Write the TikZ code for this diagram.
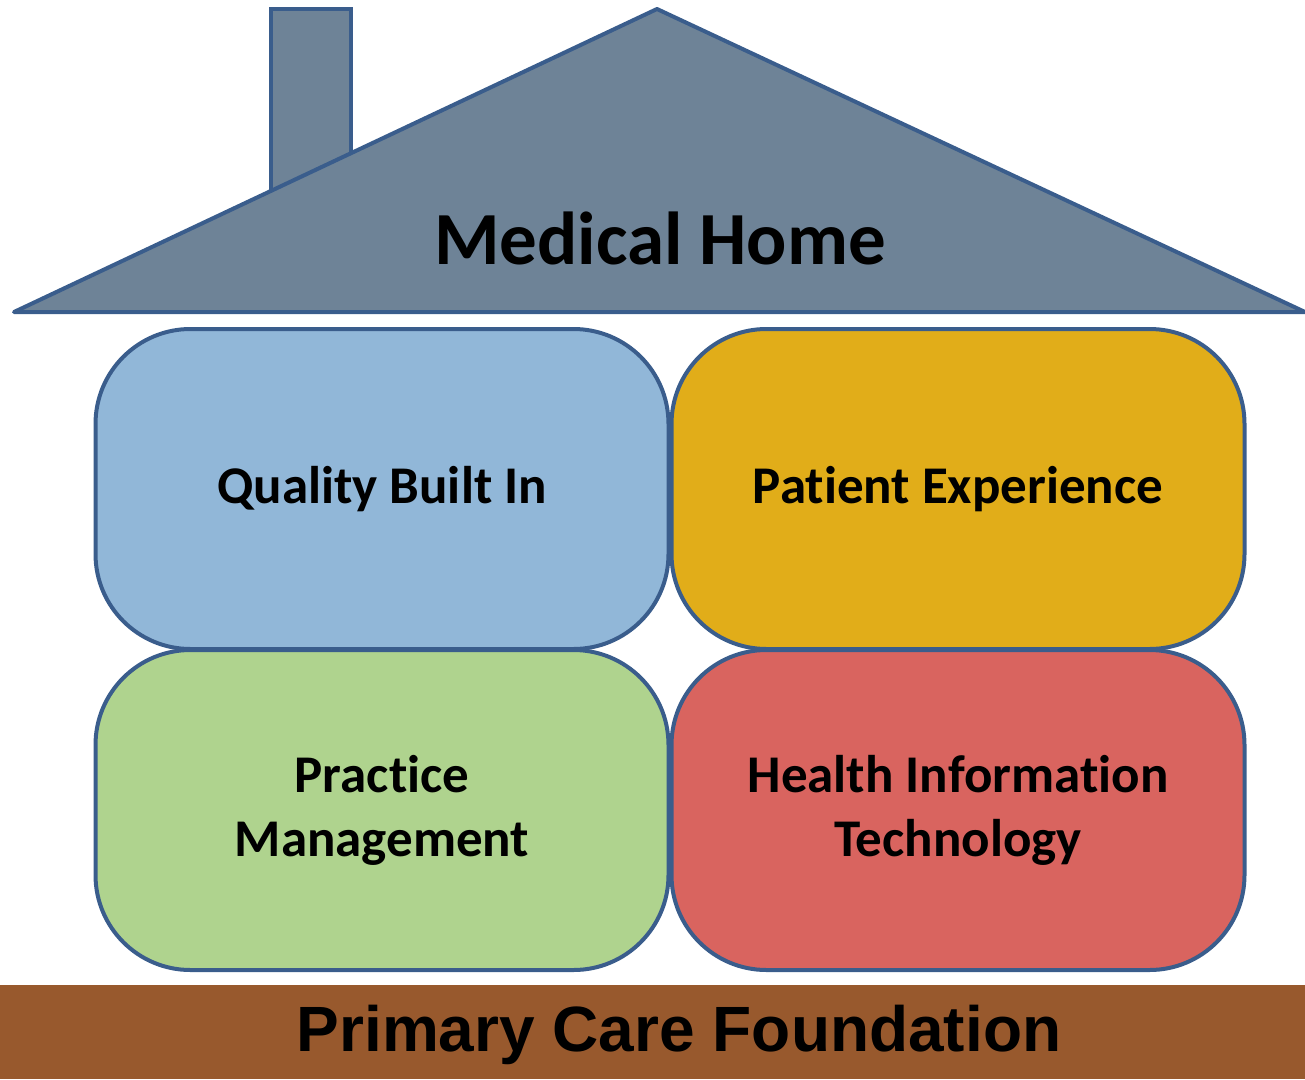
\documentclass[tikz,border=0pt]{standalone}
\usepackage{fontspec}
\setmainfont{Carlito}[RawFeature={-liga;-clig;-calt;-dlig}]
\newfontfamily\arialfont{Liberation Sans}
\definecolor{roofgray}{RGB}{110,131,151}
\definecolor{edgeblue}{RGB}{58,93,140}
\definecolor{qualblue}{RGB}{145,183,216}
\definecolor{patgold}{RGB}{225,173,25}
\definecolor{pracgreen}{RGB}{175,211,142}
\definecolor{hitred}{RGB}{217,100,95}
\definecolor{basebrown}{RGB}{152,89,45}
\begin{document}
\begin{tikzpicture}[x=1pt, y=-1pt,
pillar/.style={rectangle, rounded corners=95pt, draw=edgeblue, line width=4pt, minimum width=573pt, minimum height=320pt, align=center, font=\fontsize{53}{64}\selectfont\bfseries},
]
\useasboundingbox (0,0) rectangle (1305,1079);
%Chimney and roof
\draw[draw=edgeblue, fill=roofgray, line width=4pt] (271,9) rectangle (351,200);
\draw[draw=edgeblue, fill=roofgray, line width=4pt, line join=round] (14,312) -- (657,9) -- (1305,312) -- cycle;
\node[font=\fontsize{75}{88}\selectfont\bfseries] (home) at (660,238) {Medical Home};
%Pillars
\node[pillar, fill=qualblue] (quality) at (382,489) {Quality Built In};
\node[pillar, fill=patgold] (patient) at (958,489) {Patient Experience};
\node[pillar, fill=pracgreen] (practice) at (382,810) {Practice\\Management};
\node[pillar, fill=hitred] (hit) at (958,810) {Health Information\\Technology};
%Foundation
\fill[basebrown] (0,985) rectangle (1305,1079);
\node[font=\arialfont\fontsize{64}{74}\selectfont\bfseries] (base) at (679,1035) {Primary Care Foundation};
\end{tikzpicture}
\end{document}
